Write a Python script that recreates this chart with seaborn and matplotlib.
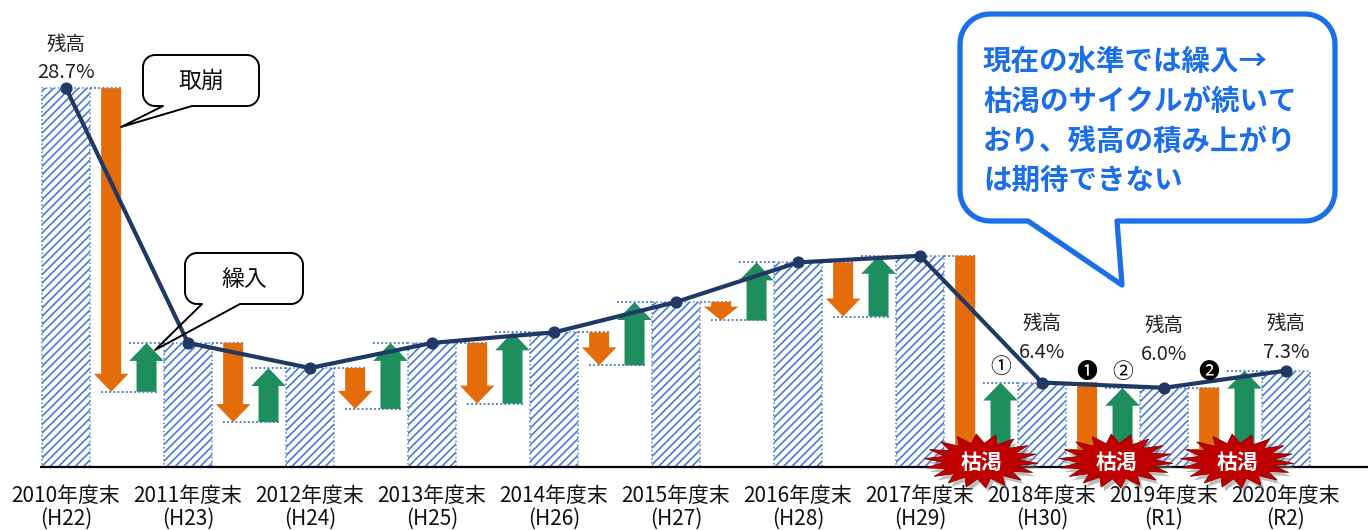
import numpy as np
import pandas as pd
import matplotlib
matplotlib.use("Agg")
import matplotlib.pyplot as plt
import matplotlib.transforms as mtrans
from matplotlib.patches import Polygon
import seaborn as sns

# ---------------- data ----------------
years = ["2010年度末\n(H22)", "2011年度末\n(H23)", "2012年度末\n(H24)", "2013年度末\n(H25)",
         "2014年度末\n(H26)", "2015年度末\n(H27)", "2016年度末\n(H28)", "2017年度末\n(H29)",
         "2018年度末\n(H30)", "2019年度末\n(R1)", "2020年度末\n(R2)"]
balance = [28.7, 9.4, 7.5, 9.4, 10.2, 12.5, 15.5, 16.0, 6.4, 6.0, 7.3]   # 残高 (%)
withdrawal = [23.0, 6.0, 3.1, 4.6, 2.5, 1.4, 4.1, 16.0, 6.4, 6.0]       # 取崩
deposit = [3.7, 4.1, 5.0, 5.4, 4.8, 4.4, 4.6, 6.4, 6.0, 7.3]            # 繰入
label_idx = [0, 8, 9, 10]
label_pct = ["28.7%", "6.4%", "6.0%", "7.3%"]
depleted_idx = [7, 8, 9]
circled = [("①", 7, "dep"), ("❶", 8, "wd"), ("②", 8, "dep"), ("❷", 9, "wd")]
message = ["現在の水準では繰入→", "枯渇のサイクルが続いて", "おり、残高の積み上がり", "は期待できない"]

# ---------------- style ----------------
sns.set_theme(style="white")
FONTS = ["Noto Sans CJK JP", "DejaVu Sans"]
plt.rcParams["font.family"] = FONTS
plt.rcParams["hatch.linewidth"] = 1.25

ORANGE = "#E46C0A"
GREEN = "#1F8E5E"
NAVY = "#1F3864"
HATCH = "#4F7FD3"
DOT = "#4472C4"
RED = "#C00000"
BLUE = "#1A6FE8"

W, H = 1368, 530
PX_PER = 13.2       # pixels per % on the y axis
X0, DX = 66, 122    # pixel centre of first category and spacing
BASE = 467          # baseline pixel row

fig = plt.figure(figsize=(W / 100, H / 100), dpi=100)
ax = fig.add_axes([0, (H - BASE) / H, 1, BASE / H])
ax.set_zorder(1)

df = pd.DataFrame({"year": years, "balance": balance})
sns.barplot(data=df, x="year", y="balance", ax=ax, color="white", saturation=1,
            width=0.4, edgecolor=HATCH, linewidth=1.1, linestyle=":", hatch="////",
            zorder=2)

n = len(balance)
ax.set_xlim(-X0 / DX, (W - X0) / DX)
ax.set_ylim(0, BASE / PX_PER)
for s in ax.spines.values():
    s.set_visible(False)
ax.set_yticks([])
ax.set_xlabel("")
ax.set_ylabel("")
ax.tick_params(axis="x", length=0, pad=13)
ax.set_xticks(range(n))
ax.set_xticklabels(years, fontsize=15, linespacing=1.05, color="#111111")

# baseline
ax.hlines(0, (40 - X0) / DX, (W - X0) / DX, color="black", lw=1.6, zorder=5, clip_on=False)

# arrows
OFF_WD, OFF_DEP = 0.37, 0.66
hw, HW = 0.082, 0.142
HL = 18 / PX_PER


def arrow(c, y_from, y_to, color):
    length = abs(y_to - y_from)
    hl = min(HL, length * 0.75)
    sgn = 1 if y_to > y_from else -1
    yh = y_to - sgn * hl
    pts = [(c - hw, y_from), (c + hw, y_from), (c + hw, yh), (c + HW, yh),
           (c, y_to), (c - HW, yh), (c - hw, yh)]
    ax.add_patch(Polygon(pts, closed=True, facecolor=color, edgecolor="none", zorder=3))


dot_kw = dict(colors=DOT, linestyles=(0, (1, 1.3)), lw=1.3, zorder=2.5)
for i in range(n - 1):
    top = balance[i]
    trough = top - withdrawal[i]
    nxt = trough + deposit[i]
    cw, cd = i + OFF_WD, i + OFF_DEP
    arrow(cw, top, trough, ORANGE)
    arrow(cd, trough, nxt, GREEN)
    ax.hlines(top, i + 0.2, cw + hw, **dot_kw)
    if i not in depleted_idx:
        ax.hlines(trough, cw - hw, cd + hw, **dot_kw)
    ax.hlines(nxt, cd - HW, i + 1 - 0.2, **dot_kw)

# balance line
sns.lineplot(x=np.arange(n), y=balance, ax=ax, color=NAVY, lw=3, marker="o",
             markersize=8, markeredgecolor=NAVY, zorder=4)

# ---------------- overlay in pixel coordinates ----------------
ov = fig.add_axes([0, 0, 1, 1])
ov.set_zorder(5)
ov.set_xlim(0, W)
ov.set_ylim(H, 0)
ov.axis("off")
ov.patch.set_alpha(0)

mix = mtrans.blended_transform_factory(ax.transData, ov.transData)

# 残高 labels
pct_rows = {0: (44, 73), 8: (323, 352), 9: (325, 354), 10: (323, 352)}
for idx, pct in zip(label_idx, label_pct):
    r1, r2 = pct_rows[idx]
    ov.text(idx, r1, "残高", transform=mix, ha="center", va="center", fontsize=14, color="#222222")
    ov.text(idx, r2, pct, transform=mix, ha="center", va="center", fontsize=14.5, color="#222222")

# circled numbers
for sym, i, kind in circled:
    xpos = i + (OFF_WD if kind == "wd" else OFF_DEP)
    ypix = 367 if sym == "①" else 372
    ov.text(xpos, ypix, sym, transform=mix, ha="center", va="center", fontsize=15,
            color="black", family=FONTS)


def callout(x0, y0, x1, y1, r, tail, ec, lw, fc):
    pts = []
    def arc(cx, cy, a0, a1):
        for t in np.linspace(a0, a1, 12):
            pts.append((cx + r * np.cos(t), cy + r * np.sin(t)))
    arc(x0 + r, y0 + r, np.pi, 1.5 * np.pi)
    arc(x1 - r, y0 + r, 1.5 * np.pi, 2 * np.pi)
    arc(x1 - r, y1 - r, 0, 0.5 * np.pi)
    bxa, bxb, tx, ty = tail
    pts += [(bxb, y1), (tx, ty), (bxa, y1)]
    arc(x0 + r, y1 - r, 0.5 * np.pi, np.pi)
    ov.add_patch(Polygon(pts, closed=True, facecolor=fc, edgecolor=ec, lw=lw,
                         joinstyle="round", zorder=6))


callout(143, 55, 259, 106, 12, (163, 192, 121, 127), "black", 1.4, "none")
ov.text(201, 81, "取崩", ha="center", va="center", fontsize=16.5, color="#111111")
callout(185, 253, 303, 304, 12, (202, 240, 155, 350), "black", 1.4, "none")
ov.text(244, 279, "繰入", ha="center", va="center", fontsize=16.5, color="#111111")

callout(960, 14, 1335, 221, 30, (1028, 1117, 1122, 285), BLUE, 3.8, "white")
for k, line in enumerate(message):
    ov.text(983, [62, 102, 142, 181][k], line, ha="left", va="center", fontsize=20.5,
            fontweight="bold", color=BLUE, zorder=7)


def starburst(cx, cy, rx, ry, nsp=18, inner=0.66):
    t = np.linspace(0, 2 * np.pi, 2 * nsp, endpoint=False) + 0.09
    rr = np.where(np.arange(2 * nsp) % 2 == 0, 1.0, inner)
    return np.column_stack([cx + rx * rr * np.cos(t), cy + ry * rr * np.sin(t)])


for cx in [981, 1116, 1237]:
    shadow = starburst(cx + 3, 465, 57, 27)
    ov.add_patch(Polygon(shadow, closed=True, facecolor="#7F7F7F", alpha=0.5,
                         edgecolor="none", zorder=6))
    ov.add_patch(Polygon(starburst(cx, 461, 57, 27), closed=True, facecolor=RED,
                         edgecolor="#8B0000", lw=0.6, zorder=6.5))
    ov.text(cx, 462, "枯渇", ha="center", va="center", fontsize=15, fontweight="bold",
            color="white", zorder=7)

fig.savefig("out.png", dpi=100)
